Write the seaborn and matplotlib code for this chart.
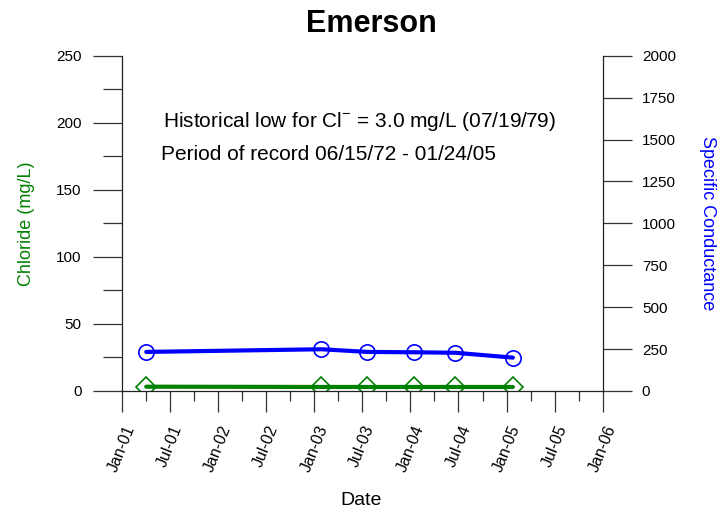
import pandas as pd
import matplotlib
matplotlib.use('Agg')
import matplotlib.pyplot as plt
import matplotlib.dates as mdates
import seaborn as sns

# data
sample_dates = ['2001-04-03', '2003-01-28', '2003-07-22', '2004-01-13', '2004-06-20', '2005-01-24']
chloride = [3.2, 3.0, 3.0, 3.0, 3.0, 3.0]
conductance = [233, 249, 233, 231, 228, 199]

df = pd.DataFrame({'date': pd.to_datetime(sample_dates),
                   'chloride': chloride,
                   'conductance': conductance})

sns.set_style('ticks')
plt.rcParams['font.family'] = ['Liberation Sans', 'DejaVu Sans']
plt.rcParams['mathtext.fontset'] = 'custom'
plt.rcParams['mathtext.rm'] = 'Liberation Sans'
plt.rcParams['text.color'] = 'black'
plt.rcParams['xtick.labelcolor'] = 'black'
plt.rcParams['ytick.labelcolor'] = 'black'

fig = plt.figure(figsize=(7.18, 5.15), dpi=100)
ax = fig.add_axes([0.1699, 0.2408, 0.6699, 0.651])

sns.lineplot(data=df, x='date', y='chloride', ax=ax, color='green', linewidth=3,
             marker='D', markersize=10, markerfacecolor='none',
             markeredgecolor='green', markeredgewidth=1.2)

ax2 = ax.twinx()
sns.lineplot(data=df, x='date', y='conductance', ax=ax2, color='blue', linewidth=3,
             marker='o', markersize=11, markerfacecolor='none',
             markeredgecolor='blue', markeredgewidth=1.2)

ax.set_xlim(pd.Timestamp('2001-01-01'), pd.Timestamp('2006-01-01'))
ax.set_ylim(0, 250)
ax2.set_ylim(0, 2000)

ax.xaxis.set_major_locator(mdates.MonthLocator(bymonth=[1, 7]))
ax.xaxis.set_minor_locator(mdates.MonthLocator(bymonth=[4, 10]))
ax.xaxis.set_major_formatter(mdates.DateFormatter('%b-%y'))
ax.yaxis.set_major_locator(plt.MultipleLocator(50))
ax.yaxis.set_minor_locator(plt.MultipleLocator(25))
ax2.yaxis.set_major_locator(plt.MultipleLocator(250))

tick_col = '#333333'
ax.tick_params(axis='x', which='major', length=15, width=0.9, color=tick_col, labelsize=11.5, pad=8)
ax.tick_params(axis='x', which='minor', length=7.5, width=0.9, color=tick_col)
ax.tick_params(axis='y', which='major', length=21, width=0.9, color=tick_col, labelsize=11, pad=8)
ax.tick_params(axis='y', which='minor', length=14, width=0.9, color=tick_col)
ax2.tick_params(axis='y', which='major', length=21, width=0.9, color=tick_col, labelsize=11, pad=7)
plt.setp(ax.get_xticklabels(), rotation=68)

for s in ['top', 'right']:
    ax.spines[s].set_visible(False)
for s in ['top', 'left', 'bottom']:
    ax2.spines[s].set_visible(False)
for a in [ax, ax2]:
    for s in a.spines.values():
        s.set_linewidth(0.9)
        s.set_color('#222222')

ax.set_xlabel('')
ax.set_ylabel('Chloride (mg/L)', color='green', fontsize=13)
ax.yaxis.set_label_coords(-0.181, 0.5)
ax2.set_ylabel('Specific Conductance', color='blue', fontsize=13, rotation=-90, va='center')
ax2.yaxis.set_label_coords(1.218, 0.5)

ax.text(0.085, 0.787, r'Historical low for Cl$^{-}$ = 3.0 mg/L (07/19/79)',
        transform=ax.transAxes, fontsize=15, va='baseline', ha='left')
ax.text(0.082, 0.689, 'Period of record 06/15/72 - 01/24/05',
        transform=ax.transAxes, fontsize=15, va='baseline', ha='left')

fig.text(0.5174, 0.953, 'Emerson', fontsize=22, fontweight='bold', ha='center', va='center')
fig.text(0.503, 0.029, 'Date', fontsize=14, ha='center', va='center')

fig.savefig('out.png', dpi=100)
